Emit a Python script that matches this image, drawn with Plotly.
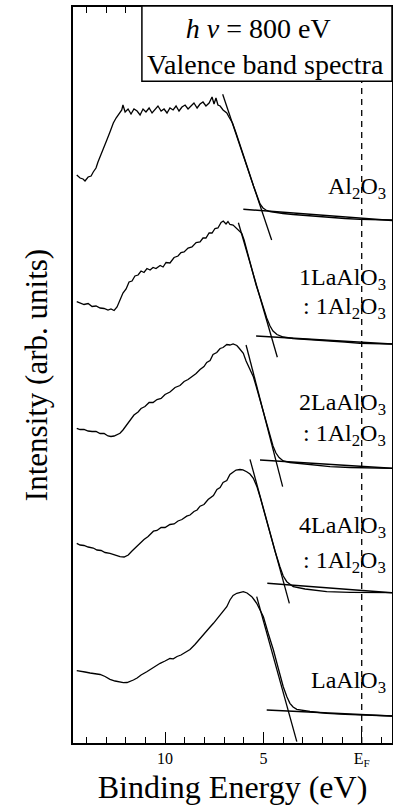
import plotly.graph_objects as go

# ---------------- data (binding energy in eV, intensity in arb. units) -------------
E_al2o3 = [14.49, 14.32, 14.17, 14.07, 13.91, 13.76, 13.65, 13.51, 13.41, 13.30, 13.15, 12.96,
           12.80, 12.63, 12.49, 12.34, 12.20, 12.14, 12.03, 11.88, 11.73, 11.58, 11.42, 11.27,
           11.12, 10.97, 10.81, 10.66, 10.51, 10.36, 10.20, 10.05, 9.90, 9.75, 9.59, 9.44,
           9.29, 9.14, 8.98, 8.83, 8.68, 8.53, 8.37, 8.22, 8.07, 7.92, 7.76, 7.61, 7.51, 7.41,
           7.31, 7.20, 7.05, 6.86, 6.75, 6.57, 6.39, 6.23, 5.99, 5.75, 5.50, 5.29, 5.17, 5.02,
           4.87, 4.66, 4.41, 4.00, 3.49, 2.63, 1.76, 0.85, 0.09, -0.68, -1.54]
I_al2o3 = [568, 565, 564, 562, 566, 567, 571, 575, 581, 586, 593, 603,
           611, 620, 625, 629, 633, 638, 631, 634, 629, 634, 632, 628,
           634, 631, 635, 630, 633, 637, 632, 634, 630, 635, 633, 637,
           632, 636, 638, 634, 637, 640, 635, 639, 641, 637, 640, 646, 639, 645,
           638, 637, 633, 630, 626, 620, 610, 600, 586, 572, 557, 545, 539, 535,
           533, 531.5, 530.5, 529.5, 528.5, 527, 526, 524.5, 523.7, 523.2, 523]

E_1to1 = [14.49, 14.32, 14.12, 13.91, 13.71, 13.51, 13.30, 13.10, 12.90, 12.75, 12.59, 12.44,
          12.29, 12.14, 11.98, 11.83, 11.68, 11.53, 11.37, 11.22, 11.07, 10.92, 10.76, 10.61,
          10.46, 10.25, 10.10, 9.95, 9.75, 9.54, 9.34, 9.19, 9.03, 8.83, 8.63, 8.42, 8.22,
          8.07, 7.92, 7.76, 7.61, 7.46, 7.31, 7.15, 7.04, 6.90, 6.80, 6.70, 6.54, 6.35, 6.24,
          6.10, 5.98, 5.83, 5.68, 5.53, 5.37, 5.17, 5.02, 4.83, 4.66, 4.51, 4.31, 3.99, 3.49,
          2.63, 1.76, 0.85, 0.09, -0.68, -1.54]
I_1to1 = [441.3, 440, 438.5, 439.5, 436.5, 437, 435, 434.5, 433, 434, 432.5, 436,
          443, 450, 454, 461, 462, 467, 468, 472, 470.5, 474.5, 473, 475.5,
          474.5, 477.5, 476, 480.5, 480, 485.5, 487, 490.5, 491, 495, 496, 500.5, 501,
          505, 505, 510, 510, 514.5, 515, 520.5, 522, 519, 521.5, 518.5, 518, 514.7, 512,
          509.7, 503, 492, 480, 469, 458, 446, 436, 425, 417, 412, 408.5, 406, 404.5,
          403.5, 402.3, 401, 399.7, 399.2, 399]

E_2to1 = [14.49, 14.32, 14.12, 13.91, 13.71, 13.51, 13.30, 13.10, 12.90, 12.75, 12.59, 12.44,
          12.29, 12.14, 11.98, 11.78, 11.58, 11.37, 11.22, 11.02, 10.81, 10.61, 10.41, 10.20,
          10.00, 9.75, 9.49, 9.24, 9.03, 8.83, 8.63, 8.42, 8.22, 8.02, 7.88, 7.71, 7.56, 7.37,
          7.20, 7.05, 6.86, 6.70, 6.54, 6.35, 6.24, 6.14, 6.02, 5.88, 5.73, 5.51, 5.37, 5.17,
          5.02, 4.83, 4.66, 4.51, 4.36, 4.20, 3.99, 3.65, 3.14, 2.37, 1.61, 0.59, -0.42, -1.54]
I_2to1 = [314.7, 313.5, 313.5, 312, 311.5, 311.5, 309.5, 309.5, 307, 306.5, 307, 308,
          309.7, 313, 317, 323, 328, 331, 334.5, 336.5, 340.5, 340.5, 343.5, 344.5,
          348.5, 351, 355.5, 357.5, 361.5, 363.5, 366.5, 369.5, 373.5, 376.5, 380.5, 382.5, 388.5, 390.5,
          394.5, 395.5, 398.5, 398, 399, 397.5, 395, 393, 389.7, 382, 375, 366.3, 357, 343,
          332, 319, 307, 297, 290, 285.5, 282, 280.5, 279.5, 278, 276.3, 275.5, 275, 274.7]

E_4to1 = [14.49, 14.32, 14.12, 13.91, 13.65, 13.46, 13.25, 13.05, 12.80, 12.59, 12.44, 12.29,
          12.08, 11.87, 11.68, 11.47, 11.27, 11.07, 10.86, 10.59, 10.41, 10.20, 10.00, 9.75,
          9.54, 9.34, 9.14, 8.90, 8.73, 8.53, 8.37, 8.22, 8.02, 7.81, 7.54, 7.36, 7.20, 7.05,
          6.86, 6.70, 6.53, 6.39, 6.19, 6.04, 5.85, 5.68, 5.51, 5.32, 5.17, 4.92, 4.66, 4.41,
          4.16, 3.99, 3.81, 3.65, 3.48, 2.88, 1.78, 0.59, -0.42, -1.54]
I_4to1 = [199.7, 198, 197.5, 196, 195, 193, 192.5, 190.5, 189.7, 188, 187, 186.3,
          186, 188, 192, 196, 199.7, 203.5, 206.5, 211.8, 212.5, 215.5, 215.5, 218.5,
          219, 222, 223.5, 226.8, 228, 231.5, 233, 236.8, 238.5, 243.5, 247.5, 253.5, 255.5, 260.5,
          262.5, 268.5, 271, 273, 273.5, 273.2, 271.3, 269, 264.7, 256, 246.3, 228, 209.7, 192,
          176.3, 167, 161.3, 158.5, 156.3, 154, 151.3, 150.7, 150.5, 150.3]

E_laalo3 = [14.49, 14.32, 14.07, 13.81, 13.56, 13.30, 13.05, 12.80, 12.54, 12.34, 12.12, 11.93,
            11.78, 11.61, 11.42, 11.22, 10.93, 10.76, 10.51, 10.25, 10.00, 9.75, 9.58, 9.39,
            9.19, 8.90, 8.73, 8.48, 8.22, 7.97, 7.71, 7.54, 7.36, 7.15, 6.86, 6.70, 6.54, 6.35,
            6.19, 6.02, 5.83, 5.59, 5.48, 5.34, 5.17, 5.00, 4.76, 4.49, 4.26, 3.99, 3.80, 3.65,
            3.49, 3.30, 2.63, 1.78, 0.85, 0.09, -0.68, -1.54]
I_laalo3 = [72.3, 71.5, 71, 70, 69.5, 68.5, 66.5, 63.7, 62, 61, 60.3, 60.5,
            61.5, 63, 65, 68, 71.3, 73.5, 76.5, 79.7, 82, 84.5, 84.2, 86.5,
            88, 91.3, 93.5, 98.5, 104.7, 110, 116, 119.7, 124, 130, 136.3, 143, 147.5, 149.7,
            150.7, 151.3, 150, 146.3, 143.5, 139.7, 133, 126.3, 110, 93, 76, 56.3, 46, 39.7,
            36, 33.7, 31.5, 29.7, 28.7, 28, 27.5, 27]

spectra = [(E_al2o3, I_al2o3), (E_1to1, I_1to1), (E_2to1, I_2to1),
           (E_4to1, I_4to1), (E_laalo3, I_laalo3)]

# leading-edge linear fits (two end points each)
edge_E = [[7.07, 4.58], [6.27, 4.29], [5.88, 4.02], [5.68, 3.68], [5.34, 3.30]]
edge_I = [[648.7, 503.0], [520.3, 385.7], [398.0, 256.3], [283.7, 139.7], [146.3, 1.3]]
# background linear fits
base_E = [[6.02, -1.54], [5.37, -1.54], [5.17, -1.54], [4.80, -1.54], [4.83, -1.54]]
base_I = [[533.7, 522.5], [407.0, 399.0], [283.0, 274.7], [159.7, 150.3], [33.0, 27.0]]

# sample labels
label_text = ["Al<sub>2</sub>O<sub>3</sub>",
              "1LaAlO<sub>3</sub>", ": 1Al<sub>2</sub>O<sub>3</sub>",
              "2LaAlO<sub>3</sub>", ": 1Al<sub>2</sub>O<sub>3</sub>",
              "4LaAlO<sub>3</sub>", ": 1Al<sub>2</sub>O<sub>3</sub>",
              "LaAlO<sub>3</sub>"]
label_I = [555, 464, 435, 339, 308, 216, 181, 61]
label_E = -1.33

fermi_E = 0.0
fermi_top_I = 662

x_tickvals = [10, 5, 0]
x_ticktext = ["10", "5", "E<sub>F</sub>"]
x_range = [14.68, -1.54]
y_range = [0, 736]

box_text = "<i>h</i> <i>ν</i> = 800 eV\u00a0\u00a0<br>Valence band spectra"

FONT = "Liberation Serif, Times New Roman, serif"

fig = go.Figure()
for E, I in spectra:
    fig.add_trace(go.Scatter(x=E, y=I, mode="lines",
                             line=dict(color="black", width=1.3), showlegend=False,
                             hoverinfo="skip"))
for E, I in zip(edge_E, edge_I):
    fig.add_trace(go.Scatter(x=E, y=I, mode="lines",
                             line=dict(color="black", width=1.3), showlegend=False,
                             hoverinfo="skip"))
for E, I in zip(base_E, base_I):
    fig.add_trace(go.Scatter(x=E, y=I, mode="lines",
                             line=dict(color="black", width=1.5), showlegend=False,
                             hoverinfo="skip"))
fig.add_trace(go.Scatter(x=[fermi_E, fermi_E], y=[0, fermi_top_I], mode="lines",
                         line=dict(color="black", width=1.3, dash="6px,5px"),
                         showlegend=False, hoverinfo="skip"))

for t, yv in zip(label_text, label_I):
    fig.add_annotation(x=label_E, y=yv, xref="x", yref="y", text=t, showarrow=False,
                       xanchor="right", yanchor="middle",
                       font=dict(family=FONT, size=24, color="black"))

# inset box with measurement info
fig.add_shape(type="rect", xref="paper", yref="paper", x0=0.216, x1=1.0, y0=0.899, y1=1.0015,
              line=dict(color="black", width=1.5), fillcolor="white", layer="above")
fig.add_annotation(x=0.605, y=0.9465, xref="paper", yref="paper",
                   text=box_text, showarrow=False, align="center",
                   xanchor="center", yanchor="middle", borderpad=0,
                   font=dict(family=FONT, size=28, color="black"))

fig.update_xaxes(range=x_range, tickvals=x_tickvals, ticktext=x_ticktext,
                 ticks="inside", ticklen=11, tickwidth=1.3, tickcolor="black",
                 minor=dict(dtick=1, ticks="inside", ticklen=6, tickwidth=1.3, tickcolor="black"),
                 showline=True, linecolor="black", linewidth=1.8, mirror="ticks",
                 showgrid=False, zeroline=False,
                 tickfont=dict(family=FONT, size=16, color="black"),
                 title=dict(text="Binding Energy (eV)", standoff=7,
                            font=dict(family=FONT, size=32, color="black")))
fig.update_yaxes(range=y_range, showticklabels=False, ticks="",
                 showline=True, linecolor="black", linewidth=1.8, mirror=True,
                 showgrid=False, zeroline=False,
                 title=dict(text="Intensity (arb. units)", standoff=14,
                            font=dict(family=FONT, size=31, color="black")))

fig.update_layout(width=393, height=806, margin=dict(l=73, r=1, t=7, b=63, autoexpand=False),
                  plot_bgcolor="white", paper_bgcolor="white")

fig.write_html("out.html", config={"displayModeBar": False},
               post_script="document.body.style.margin='0';document.body.style.overflow='hidden';")
